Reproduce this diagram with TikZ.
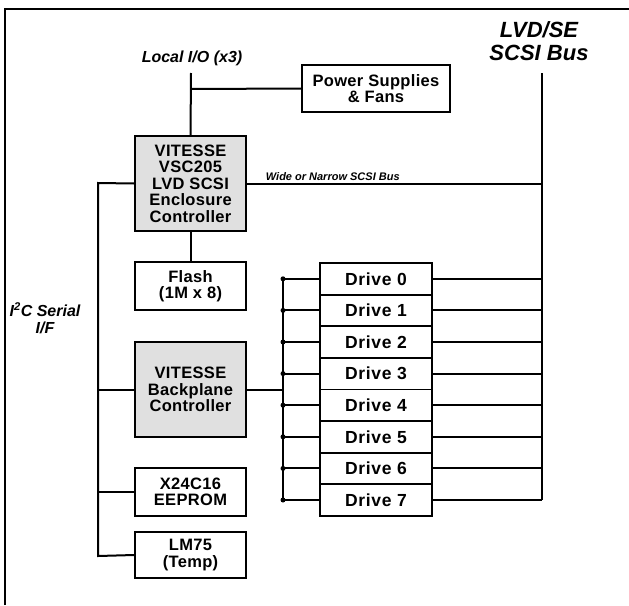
\documentclass[tikz,border=0pt]{standalone}
\usepackage{fontspec}
\setmainfont{Liberation Sans}
\begin{document}
\begin{tikzpicture}[x=1pt,y=-1pt,
  ln/.style={line width=2pt},
  box/.style={draw,line width=1.8pt,minimum width=111pt,inner sep=0pt,align=center,
     font=\fontsize{16.5}{16.5}\selectfont\bfseries\addfontfeature{LetterSpace=2}},
  gbox/.style={box,fill=vgray},
  drv/.style={draw,line width=1.8pt,minimum width=112pt,minimum height=31.6pt,inner sep=0pt,
     font=\fontsize{17.5}{17.5}\selectfont\bfseries\addfontfeature{LetterSpace=4}},
  lbl/.style={inner sep=0pt,align=center,font=\fontsize{16}{17}\selectfont\bfseries\itshape},
  dot/.style={circle,fill=black,inner sep=0pt,minimum size=5pt}
]
\definecolor{vgray}{RGB}{224,224,224}
\useasboundingbox (0,0) rectangle (629,605);
% frame
\draw[ln] (5,605) -- (5,9) -- (629,9);

% labels
\node[lbl] (localio) at (192,58) {Local I/O (x3)};
\node[lbl,font=\fontsize{22}{23}\selectfont\bfseries\itshape] (scsibus) at (539,41) {LVD/SE\\SCSI Bus};
\node[lbl] (i2c) at (45,318) {I\textsuperscript{2}C Serial\\I/F};

% boxes
\node[box,minimum width=148pt,minimum height=47pt] (power) at (376,88.5) {Power Supplies\\\& Fans};
\node[gbox,minimum height=95pt] (vsc) at (190.5,183.5) {VITESSE\\VSC205\\LVD SCSI\\Enclosure\\Controller};
\node[box,minimum height=48pt] (flash) at (190.5,286) {Flash\\(1M x 8)};
\node[gbox,minimum height=95pt] (bp) at (190.5,389.5) {VITESSE\\Backplane\\Controller};
\node[box,minimum height=48pt] (eeprom) at (190.5,492) {X24C16\\EEPROM};
\node[box,minimum height=46pt] (lm75) at (190.5,555) {LM75\\(Temp)};

\foreach \i in {0,...,7}{
  \node[drv] (d\i) at (376,{278.8+31.6*\i}) {Drive \i};
}

% coordinates
\coordinate (liotop) at (191,73);
\coordinate (pj) at (191,89);
\coordinate (bustop) at (542,73);
\coordinate (busbot) at (542,500);
\coordinate (i2ctop) at (98,183);
\coordinate (i2cbot) at (98,556);
\coordinate (dbtop) at (283,278.8);
\coordinate (dbbot) at (283,500);

% connectors
\draw[ln] (liotop) -- (vsc.north);
\draw[ln] (pj) -- (power.west);
\draw[ln] (bustop) -- (busbot);
\draw[ln] (vsc.east) -- (vsc.east -| bustop)
  node[pos=0,anchor=south west,inner sep=0pt,xshift=18pt,yshift=2pt,
       font=\fontsize{11}{11}\selectfont\bfseries\itshape] (wide) {Wide or Narrow SCSI Bus};
\draw[ln] (vsc.south) -- (flash.north);
\draw[ln] (vsc.west) -- (i2ctop) -- (i2cbot) -- (lm75.west);
\draw[ln] (bp.west) -- (bp.west -| i2ctop);
\draw[ln] (eeprom.west) -- (eeprom.west -| i2ctop);
\draw[ln] (bp.east) -- (bp.east -| dbtop);
\draw[ln] (dbtop) -- (dbbot);
\foreach \i in {0,...,7}{
  \node[dot] (p\i) at (d\i.west -| dbtop) {};
  \draw[ln] (p\i.center) -- (d\i.west);
  \draw[ln] (d\i.east) -- (d\i.east -| bustop);
}
\end{tikzpicture}
\end{document}
